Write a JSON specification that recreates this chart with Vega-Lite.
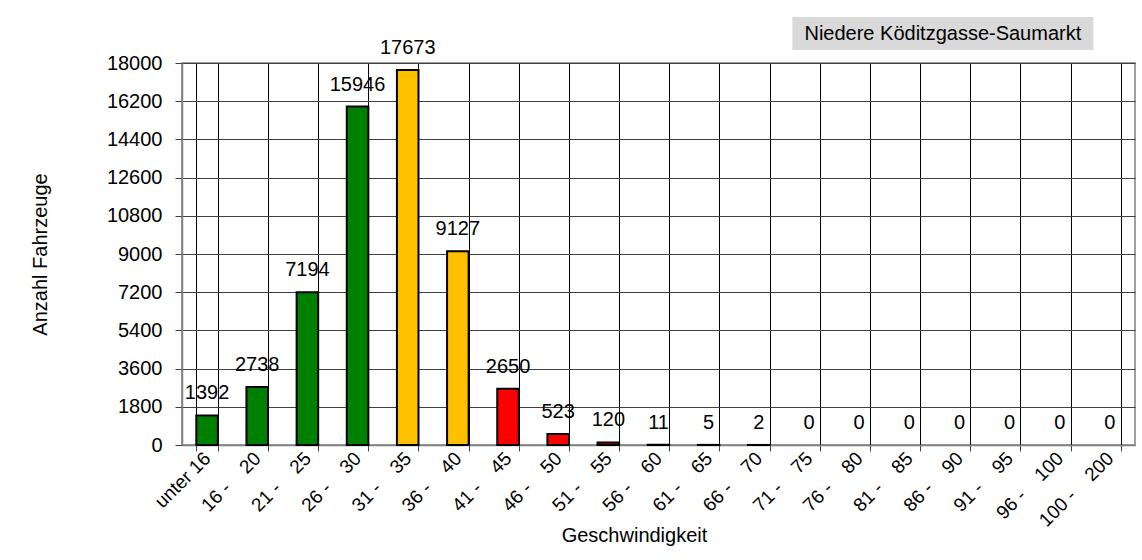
{
  "$schema": "https://vega.github.io/schema/vega-lite/v6.json",
  "width": 953,
  "height": 382,
  "autosize": {"type": "none"},
  "padding": {"left": 182, "top": 63, "right": 7, "bottom": 115},
  "background": "white",
  "config": {
    "font": "Liberation Sans",
    "view": {"stroke": "#808080", "strokeWidth": 1.5},
    "axis": {
      "labelFont": "Liberation Sans",
      "titleFont": "Liberation Sans",
      "labelColor": "#000000",
      "titleColor": "#000000",
      "titleFontWeight": "normal",
      "domainColor": "#808080",
      "domainWidth": 1.5,
      "tickColor": "#404040",
      "gridColor": "#404040",
      "gridOpacity": 1,
      "gridWidth": 1
    },
    "axisY": {
      "values": [0, 1800, 3600, 5400, 7200, 9000, 10800, 12600, 14400, 16200, 18000],
      "format": "d",
      "labelOverlap": false,
      "labelBound": false,
      "labelFontSize": 20,
      "labelPadding": 13,
      "tickSize": 7,
      "grid": true
    }
  },
  "data": {
    "values": [
      {"bereich": "unter 16", "anzahl": 1392, "klasse": "gruen"},
      {"bereich": "16 - 20", "anzahl": 2738, "klasse": "gruen"},
      {"bereich": "21 - 25", "anzahl": 7194, "klasse": "gruen"},
      {"bereich": "26 - 30", "anzahl": 15946, "klasse": "gruen"},
      {"bereich": "31 - 35", "anzahl": 17673, "klasse": "gelb"},
      {"bereich": "36 - 40", "anzahl": 9127, "klasse": "gelb"},
      {"bereich": "41 - 45", "anzahl": 2650, "klasse": "rot"},
      {"bereich": "46 - 50", "anzahl": 523, "klasse": "rot"},
      {"bereich": "51 - 55", "anzahl": 120, "klasse": "rot"},
      {"bereich": "56 - 60", "anzahl": 11, "klasse": "rot"},
      {"bereich": "61 - 65", "anzahl": 5, "klasse": "rot"},
      {"bereich": "66 - 70", "anzahl": 2, "klasse": "rot"},
      {"bereich": "71 - 75", "anzahl": 0, "klasse": "rot"},
      {"bereich": "76 - 80", "anzahl": 0, "klasse": "rot"},
      {"bereich": "81 - 85", "anzahl": 0, "klasse": "rot"},
      {"bereich": "86 - 90", "anzahl": 0, "klasse": "rot"},
      {"bereich": "91 - 95", "anzahl": 0, "klasse": "rot"},
      {"bereich": "96 - 100", "anzahl": 0, "klasse": "rot"},
      {"bereich": "100 - 200", "anzahl": 0, "klasse": "rot"}
    ]
  },
  "layer": [
    {
      "transform": [{"filter": "datum.anzahl > 0"}],
      "mark": {"type": "bar", "stroke": "#000000", "strokeWidth": 2},
      "encoding": {
        "x": {
          "field": "bereich",
          "type": "nominal",
          "scale": {
            "domain": ["unter 16", "16 - 20", "21 - 25", "26 - 30", "31 - 35", "36 - 40", "41 - 45", "46 - 50", "51 - 55", "56 - 60", "61 - 65", "66 - 70", "71 - 75", "76 - 80", "81 - 85", "86 - 90", "91 - 95", "96 - 100", "100 - 200"],
            "paddingInner": 0.57,
            "paddingOuter": 0.285
          },
          "axis": {
            "title": "Geschwindigkeit",
            "titleFontSize": 20,
            "titleX": 452,
            "titleY": 90,
            "titleBaseline": "middle",
            "labelAngle": -45,
            "labelAlign": "right",
            "labelBaseline": "middle",
            "labelFontSize": 19,
            "labelPadding": 4,
            "labelOverlap": false,
            "labelBound": false,
            "labelExpr": "replace(datum.label, ' - ', ' -\u00a0\u00a0\u00a0\u00a0')",
            "tickBand": "extent",
            "tickSize": 6,
            "grid": true,
            "gridColor": "#000000"
          }
        },
        "y": {
          "field": "anzahl",
          "type": "quantitative",
          "scale": {"domain": [0, 18000], "nice": false},
          "axis": {
            "title": "Anzahl Fahrzeuge",
            "titleFontSize": 20,
            "titleX": -142,
            "titleBaseline": "middle",
            "values": [0, 1800, 3600, 5400, 7200, 9000, 10800, 12600, 14400, 16200, 18000],
            "format": "d",
            "labelOverlap": false,
            "labelFontSize": 20,
            "labelPadding": 13,
            "tickSize": 7,
            "grid": true
          }
        },
        "color": {
          "field": "klasse",
          "type": "nominal",
          "scale": {"domain": ["gruen", "gelb", "rot"], "range": ["#008000", "#FFC000", "#FF0000"]},
          "legend": null
        }
      }
    },
    {
      "mark": {"type": "text", "fontSize": 20, "baseline": "alphabetic", "dy": -16, "color": "#000000"},
      "encoding": {
        "x": {"field": "bereich", "type": "nominal"},
        "y": {"field": "anzahl", "type": "quantitative", "scale": {"domain": [0, 18000], "nice": false}, "axis": {"title": "Anzahl Fahrzeuge", "values": [0, 1800, 3600, 5400, 7200, 9000, 10800, 12600, 14400, 16200, 18000]}},
        "text": {"field": "anzahl", "type": "quantitative", "format": "d"}
      }
    },
    {
      "data": {"values": [{"box": "Niedere Köditzgasse-Saumarkt"}]},
      "mark": {"type": "rect", "color": "#D9D9D9"},
      "encoding": {
        "x": {"datum": "71 - 75", "type": "nominal", "bandPosition": -0.27},
        "x2": {"datum": "100 - 200", "bandPosition": -0.27},
        "y": {"datum": 18613, "type": "quantitative", "scale": {"domain": [0, 18000], "nice": false}, "axis": {"title": "Anzahl Fahrzeuge", "values": [0, 1800, 3600, 5400, 7200, 9000, 10800, 12600, 14400, 16200, 18000]}},
        "y2": {"datum": 20168}
      }
    },
    {
      "data": {"values": [{"box": "Niedere Köditzgasse-Saumarkt"}]},
      "mark": {"type": "text", "fontSize": 20, "baseline": "middle", "align": "center", "color": "#000000"},
      "encoding": {
        "x": {"datum": "86 - 90", "type": "nominal", "bandPosition": -0.27},
        "y": {"datum": 19390, "type": "quantitative", "scale": {"domain": [0, 18000], "nice": false}, "axis": {"title": "Anzahl Fahrzeuge", "values": [0, 1800, 3600, 5400, 7200, 9000, 10800, 12600, 14400, 16200, 18000]}},
        "text": {"field": "box", "type": "nominal"}
      }
    }
  ]
}
